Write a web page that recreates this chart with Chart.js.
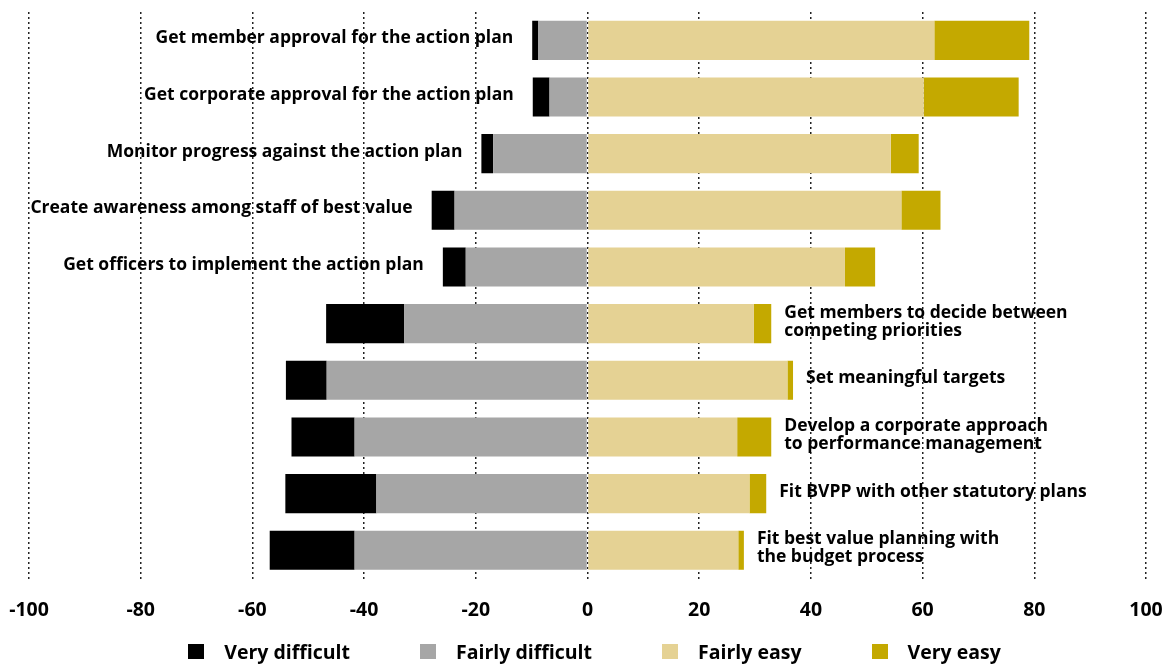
<!DOCTYPE html>
<html>
<head>
<meta charset="utf-8">
<script src="https://cdn.jsdelivr.net/npm/chart.js@4.4.0/dist/chart.umd.min.js"></script>
<style>
  html, body { margin: 0; padding: 0; background: #fff; }
  #wrap { position: relative; width: 1165px; height: 664px; overflow: hidden; }
  #legend { position: absolute; left: 12px; top: 638px; width: 1165px; display: flex; justify-content: center;
            font-family: "Open Sans", sans-serif; font-weight: 700; font-size: 19.5px; color: #000; }
  #legend .item { display: flex; align-items: center; margin: 0 35px; }
  #legend .box { width: 16px; height: 15px; margin-right: 20px; }
</style>
</head>
<body>
<div id="wrap">
  <canvas id="bar-chart" width="1165" height="664"></canvas>
  <div id="legend"></div>
</div>
<script>
// categories, top to bottom
var categories = [
  ["Get member approval for the action plan"],
  ["Get corporate approval for the action plan"],
  ["Monitor progress against the action plan"],
  ["Create awareness among staff of best value"],
  ["Get officers to implement the action plan"],
  ["Get members to decide between", "competing priorities"],
  ["Set meaningful targets"],
  ["Develop a corporate approach", "to performance management"],
  ["Fit BVPP with other statutory plans"],
  ["Fit best value planning with", "the budget process"]
];
// which side of the bar the label goes
var labelSide = ["left","left","left","left","left","right","right","right","right","right"];

// percentages (difficult values are shown to the left of zero)
var veryDifficult   = [1.1, 3.0, 2.1, 4.1, 4.1, 14.0, 7.3, 11.3, 16.3, 15.2];
var fairlyDifficult = [8.8, 6.8, 16.9, 23.8, 21.8, 32.8, 46.7, 41.7, 37.8, 41.7];
var fairlyEasy      = [62.1, 60.2, 54.3, 56.2, 46.1, 29.8, 35.8, 26.8, 29.0, 27.0];
var veryEasy        = [17.0, 17.0, 5.0, 7.0, 5.4, 3.1, 1.0, 6.1, 3.0, 1.0];

var xTicks = [-100, -80, -60, -40, -20, 0, 20, 40, 60, 80, 100];

var FONT = '"Open Sans", sans-serif';

function neg(arr){ return arr.map(function(v){ return -v; }); }

var datasets = [
  { label: "Fairly difficult", backgroundColor: "#a6a6a6", data: neg(fairlyDifficult), legendIdx: 1 },
  { label: "Very difficult",   backgroundColor: "#000000", data: neg(veryDifficult),   legendIdx: 0 },
  { label: "Fairly easy",      backgroundColor: "#e5d294", data: fairlyEasy,           legendIdx: 2 },
  { label: "Very easy",        backgroundColor: "#c4a900", data: veryEasy,             legendIdx: 3 }
];

// labels drawn beside the bars
var sideLabels = {
  id: 'sideLabels',
  afterDatasetsDraw: function(chart){
    var ctx = chart.ctx;
    var left = chart.getDatasetMeta(1).data;   // very difficult (outermost left)
    var right = chart.getDatasetMeta(3).data;  // very easy (outermost right)
    ctx.save();
    ctx.font = 'bold 17.5px ' + FONT;
    ctx.fillStyle = '#000';
    ctx.textBaseline = 'middle';
    categories.forEach(function(lines, i){
      var lh = 18;
      var y0 = left[i].y - (lines.length - 1) * lh / 2 - 2;
      var x, align;
      if (labelSide[i] === 'left') { x = left[i].x - 19; align = 'right'; }
      else { x = right[i].x + 13; align = 'left'; }
      ctx.textAlign = align;
      lines.forEach(function(t, k){ ctx.fillText(t, x, y0 + k * lh); });
    });
    ctx.restore();
  }
};

new Chart(document.getElementById("bar-chart"), {
  type: 'bar',
  data: {
    labels: categories.map(function(c){ return c.join(' '); }),
    datasets: datasets
  },
  options: {
    indexAxis: 'y',
    responsive: false,
    animation: false,
    layout: { padding: { left: 29, right: 19, top: 12, bottom: 22 } },
    datasets: { bar: { categoryPercentage: 0.69, barPercentage: 1.0 } },
    plugins: {
      legend: { display: false },
      tooltip: { enabled: false }
    },
    scales: {
      x: {
        stacked: true,
        min: -100, max: 100,
        afterBuildTicks: function(axis){ axis.ticks = xTicks.map(function(v){ return { value: v }; }); },
        afterFit: function(axis){ axis.paddingLeft = 0; axis.paddingRight = 0; },
        grid: { color: '#222', lineWidth: 1.5, drawTicks: false },
        border: { display: false, dash: [2, 3] },
        ticks: { color: '#000', padding: 20, font: { family: FONT, weight: 'bold', size: 19.5 } }
      },
      y: {
        stacked: true,
        display: false
      }
    }
  },
  plugins: [sideLabels]
});

// legend in the original order
var lg = document.getElementById('legend');
datasets.slice().sort(function(a, b){ return a.legendIdx - b.legendIdx; }).forEach(function(d){
  var it = document.createElement('div');
  it.className = 'item';
  it.innerHTML = '<span class="box" style="background:' + d.backgroundColor + '"></span><span>' + d.label + '</span>';
  lg.appendChild(it);
});
</script>
</body>
</html>
